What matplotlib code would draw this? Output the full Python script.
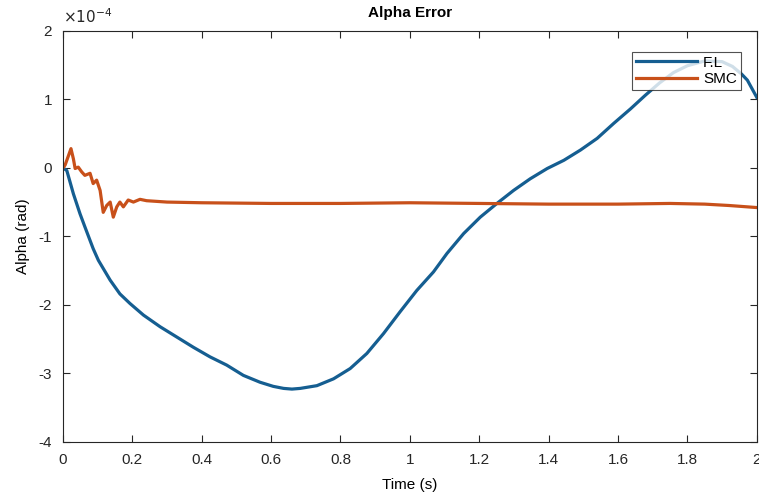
import numpy as np
import matplotlib
matplotlib.use("Agg")
import matplotlib.pyplot as plt

plt.rcParams['font.family'] = ['Liberation Sans', 'DejaVu Sans']
plt.rcParams['axes.unicode_minus'] = False

# F.L curve (values in 1e-4 rad)
t_fl = [0.0, 0.011, 0.030, 0.049, 0.063, 0.087, 0.102, 0.136, 0.164, 0.193, 0.232,
        0.28, 0.328, 0.376, 0.424, 0.472, 0.52, 0.568, 0.606, 0.636, 0.66, 0.684,
        0.732, 0.78, 0.828, 0.876, 0.924, 0.972, 1.02, 1.068, 1.107, 1.155, 1.203,
        1.251, 1.299, 1.347, 1.396, 1.444, 1.492, 1.54, 1.588, 1.636, 1.679, 1.72,
        1.76, 1.80, 1.85, 1.90, 1.93, 1.956, 1.973, 2.0]
a_fl = [0.0, -0.04, -0.38, -0.67, -0.86, -1.18, -1.35, -1.64, -1.84, -1.98, -2.15,
        -2.32, -2.47, -2.62, -2.76, -2.88, -3.03, -3.13, -3.19, -3.22, -3.23, -3.22,
        -3.18, -3.08, -2.93, -2.71, -2.42, -2.10, -1.79, -1.52, -1.25, -0.96, -0.72,
        -0.52, -0.33, -0.16, -0.01, 0.11, 0.26, 0.43, 0.65, 0.86, 1.06, 1.24,
        1.39, 1.49, 1.56, 1.55, 1.48, 1.37, 1.28, 1.03]

# SMC curve (values in 1e-4 rad)
t_smc = [0.0, 0.006, 0.011, 0.023, 0.03, 0.035, 0.044, 0.054, 0.063, 0.078, 0.087,
         0.097, 0.107, 0.116, 0.126, 0.136, 0.145, 0.155, 0.164, 0.174, 0.188, 0.203,
         0.222, 0.241, 0.3, 0.4, 0.6, 0.8, 1.0, 1.2, 1.4, 1.6, 1.75, 1.85, 1.92, 2.0]
a_smc = [0.0, 0.04, 0.11, 0.28, 0.13, -0.01, 0.01, -0.06, -0.11, -0.08, -0.23,
         -0.18, -0.33, -0.65, -0.55, -0.50, -0.72, -0.57, -0.50, -0.57, -0.47, -0.50,
         -0.46, -0.48, -0.50, -0.51, -0.52, -0.52, -0.51, -0.52, -0.53, -0.53, -0.52,
         -0.53, -0.55, -0.58]

x_ticks = [0, 0.2, 0.4, 0.6, 0.8, 1, 1.2, 1.4, 1.6, 1.8, 2]
x_labels = ['0', '0.2', '0.4', '0.6', '0.8', '1', '1.2', '1.4', '1.6', '1.8', '2']
y_ticks = [-4, -3, -2, -1, 0, 1, 2]
y_labels = ['-4', '-3', '-2', '-1', '0', '1', '2']

scale = 1e-4
fig = plt.figure(figsize=(7.59, 4.97), dpi=100)
ax = fig.add_axes([0.083, 0.111, 0.914, 0.827])

ax.plot(t_fl, np.array(a_fl) * scale, color='#155E91', lw=2.3,
        solid_joinstyle='round', label='F.L')
ax.plot(t_smc, np.array(a_smc) * scale, color='#C8501A', lw=2.3,
        solid_joinstyle='round', label='SMC')

ax.set_xlim(0, 2)
ax.set_ylim(-4e-4, 2e-4)
ax.set_xticks(x_ticks)
ax.set_xticklabels(x_labels)
ax.set_yticks(np.array(y_ticks) * scale)
ax.set_yticklabels(y_labels)
ax.text(0.0, 1.012, r'$\times 10^{-4}$', transform=ax.transAxes, fontsize=11,
        ha='left', va='bottom', color='#262626')

ax.tick_params(direction='in', length=5, width=0.8, top=True, right=True,
               labelsize=11, colors='#262626')
ax.tick_params(axis='x', pad=8)
ax.tick_params(axis='y', pad=8)
for s in ax.spines.values():
    s.set_color('#262626')
    s.set_linewidth(0.8)

ax.set_title('Alpha Error', fontsize=11, fontweight='bold', pad=10)
ax.set_xlabel('Time (s)', fontsize=11, labelpad=8)
ax.set_ylabel('Alpha (rad)', fontsize=11, labelpad=6)

leg = ax.legend(loc='upper right', bbox_to_anchor=(0.977, 0.949), fontsize=11,
                frameon=True, fancybox=False, edgecolor='#262626', handlelength=4.0,
                borderpad=0.25, labelspacing=0.15, handletextpad=0.4, borderaxespad=0)
leg.get_frame().set_linewidth(0.8)

fig.savefig('out.png', dpi=100)
